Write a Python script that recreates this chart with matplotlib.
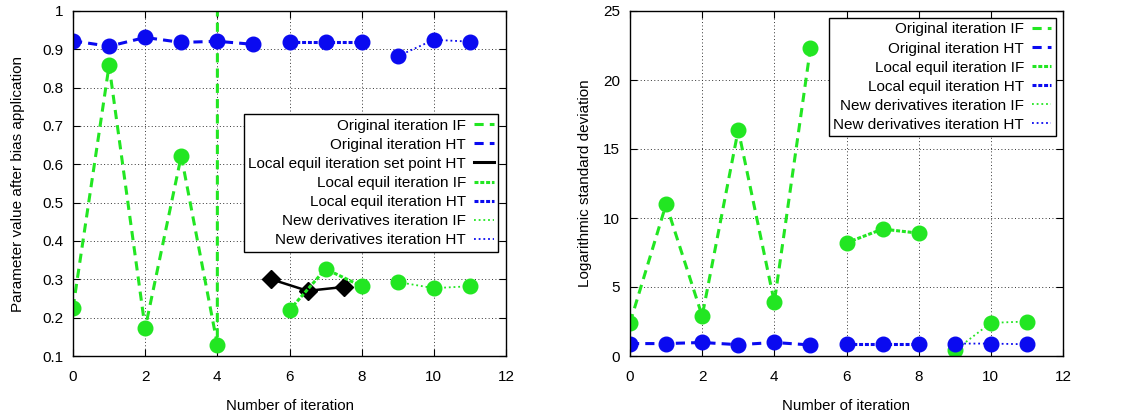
import matplotlib.pyplot as plt
from matplotlib.lines import Line2D

plt.rcParams['font.family'] = ['Liberation Sans', 'DejaVu Sans']
plt.rcParams['font.size'] = 11

GREEN = '#22e622'
BLUE = '#0a0af0'

# iteration indices for each phase
x_orig = [0, 1, 2, 3, 4, 5]
x_local = [6, 7, 8]
x_new = [9, 10, 11]
x_setpoint = [5.5, 6.5, 7.5]

# parameter value after bias application
par_orig_if = [0.225, 0.858, 0.172, 0.622, 0.130, 400.0]
par_orig_ht = [0.922, 0.908, 0.931, 0.918, 0.921, 0.913]
par_setpoint_ht = [0.300, 0.270, 0.280]
par_local_if = [0.220, 0.327, 0.282]
par_local_ht = [0.920, 0.920, 0.920]
par_new_if = [0.293, 0.277, 0.282]
par_new_ht = [0.882, 0.925, 0.920]

# logarithmic standard deviation
std_orig_if = [2.4, 11.0, 2.9, 16.4, 3.9, 22.3]
std_orig_ht = [0.90, 0.90, 0.98, 0.82, 0.98, 0.80]
std_local_if = [8.2, 9.2, 8.9]
std_local_ht = [0.90, 0.90, 0.90]
std_new_if = [0.40, 2.4, 2.5]
std_new_ht = [0.90, 0.90, 0.85]

ORIG = dict(lw=2.2, dashes=(3, 2))
LOCAL = dict(lw=2.2, dashes=(1.3, 0.6))
NEW = dict(lw=1.3, dashes=(1, 1.6))
MK = dict(marker='o', markersize=10.5)


def style_axes(ax, ylim, yticks, ylabel, ylabelpad):
    ax.set_xlim(0, 12)
    ax.set_ylim(*ylim)
    ax.set_xticks(range(0, 13, 2))
    ax.set_yticks(yticks)
    ax.tick_params(direction='in', top=True, right=True, length=5, width=0.8,
                   labelsize=11)
    ax.tick_params(axis='x', pad=10)
    ax.tick_params(axis='y', pad=7)
    ax.grid(True, color='#333333', linestyle=(0, (1, 2.5)), linewidth=0.7)
    for s in ax.spines.values():
        s.set_linewidth(1.0)
    ax.set_xlabel('Number of iteration', labelpad=11, fontsize=10.8)
    ax.set_ylabel(ylabel, labelpad=ylabelpad, fontsize=11)


def handle(color, style):
    return Line2D([], [], color=color, **style)


def add_legend(ax, handles, labels, anchor):
    leg = ax.legend(handles, labels, loc='upper right', bbox_to_anchor=anchor,
                    borderaxespad=0, markerfirst=False, handlelength=1.3,
                    handletextpad=0.5, labelspacing=0.33, fancybox=False,
                    framealpha=1, edgecolor='black', borderpad=0.3,
                    fontsize=11)
    leg.get_frame().set_linewidth(1.0)
    return leg


fig = plt.figure(figsize=(11.3, 4.18), dpi=100)

# left: parameter values
ax1 = fig.add_axes([73 / 1130, 62 / 418, 433 / 1130, 345 / 418])
ax1.plot(x_orig, par_orig_if, color=GREEN, **ORIG, **MK)
ax1.plot(x_orig, par_orig_ht, color=BLUE, **ORIG, **MK)
ax1.plot(x_setpoint, par_setpoint_ht, color='black', lw=1.8,
         marker='D', markersize=9)
ax1.plot(x_local, par_local_if, color=GREEN, **LOCAL, **MK)
ax1.plot(x_local, par_local_ht, color=BLUE, **LOCAL, **MK)
ax1.plot(x_new, par_new_if, color=GREEN, **NEW, **MK)
ax1.plot(x_new, par_new_ht, color=BLUE, **NEW, **MK)
style_axes(ax1, (0.1, 1.0), [0.1, 0.2, 0.3, 0.4, 0.5, 0.6, 0.7, 0.8, 0.9, 1.0],
           'Parameter value after bias application', 12)
ax1.set_yticklabels(['0.1', '0.2', '0.3', '0.4', '0.5', '0.6', '0.7', '0.8',
                     '0.9', '1'])

handles1 = [handle(GREEN, ORIG), handle(BLUE, ORIG),
            Line2D([], [], color='black', lw=2.2),
            handle(GREEN, LOCAL), handle(BLUE, LOCAL),
            handle(GREEN, NEW), handle(BLUE, NEW)]
labels1 = ['Original iteration IF', 'Original iteration HT',
           'Local equil iteration set point HT', 'Local equil iteration IF',
           'Local equil iteration HT', 'New derivatives iteration IF',
           'New derivatives iteration HT']
add_legend(ax1, handles1, labels1, (0.982, 0.701))

# right: logarithmic standard deviation
ax2 = fig.add_axes([630 / 1130, 62 / 418, 433 / 1130, 345 / 418])
ax2.plot(x_orig, std_orig_if, color=GREEN, **ORIG, **MK)
ax2.plot(x_orig, std_orig_ht, color=BLUE, **ORIG, **MK)
ax2.plot(x_local, std_local_if, color=GREEN, **LOCAL, **MK)
ax2.plot(x_local, std_local_ht, color=BLUE, **LOCAL, **MK)
ax2.plot(x_new, std_new_if, color=GREEN, **NEW, **MK)
ax2.plot(x_new, std_new_ht, color=BLUE, **NEW, **MK)
style_axes(ax2, (0, 25), range(0, 26, 5), 'Logarithmic standard deviation', 8)

handles2 = [handle(GREEN, ORIG), handle(BLUE, ORIG),
            handle(GREEN, LOCAL), handle(BLUE, LOCAL),
            handle(GREEN, NEW), handle(BLUE, NEW)]
labels2 = ['Original iteration IF', 'Original iteration HT',
           'Local equil iteration IF', 'Local equil iteration HT',
           'New derivatives iteration IF', 'New derivatives iteration HT']
add_legend(ax2, handles2, labels2, (0.984, 0.980))

fig.savefig('out.png', dpi=100)
